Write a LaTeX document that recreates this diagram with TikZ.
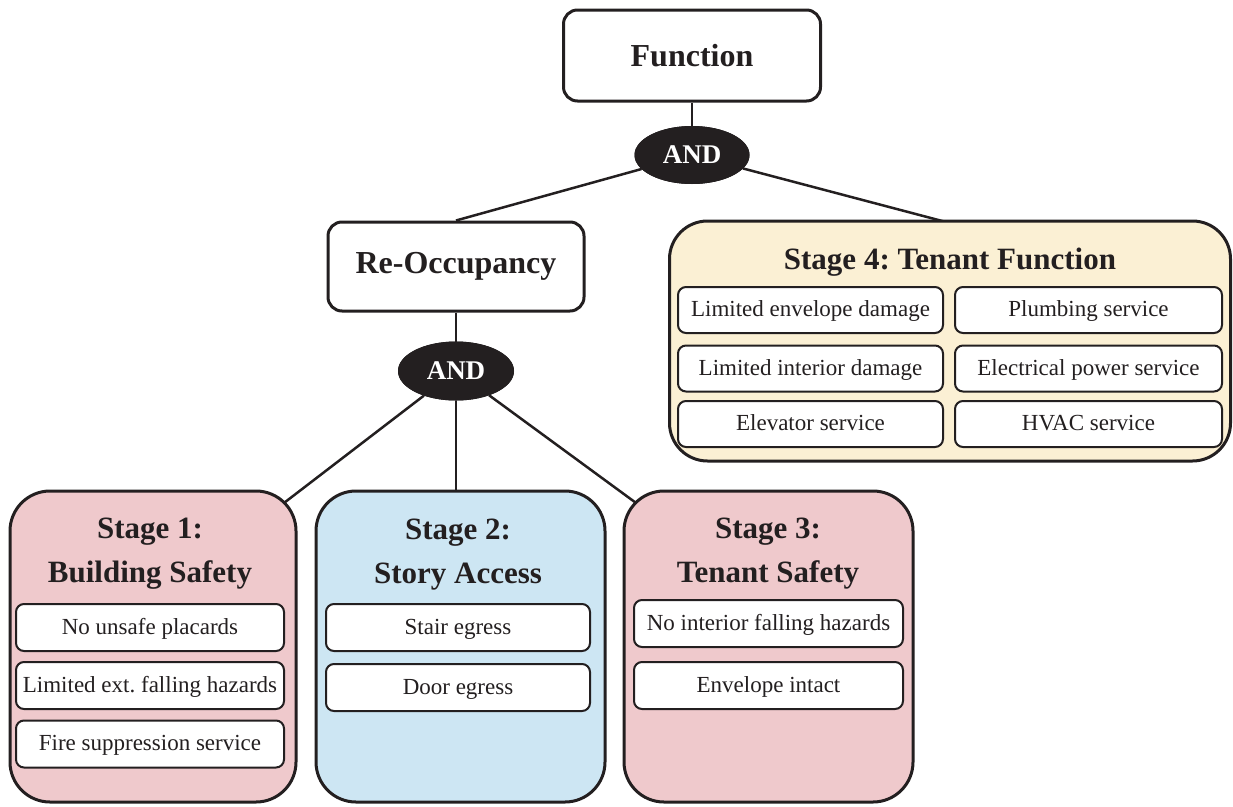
\documentclass[tikz,border=0pt]{standalone}
\usepackage{fontspec}
\setmainfont{Liberation Serif}
\usetikzlibrary{shapes.geometric}
\definecolor{ink}{HTML}{231F20}
\definecolor{pinkfill}{HTML}{EFC9CC}
\definecolor{bluefill}{HTML}{CDE6F3}
\definecolor{creamfill}{HTML}{FBF0D4}
\tikzset{
  topbox/.style={draw=ink, line width=3pt, fill=white, rounded corners=14pt,
    inner sep=0pt, font=\fontsize{32}{36}\selectfont\bfseries, text=ink},
  andnode/.style={ellipse, draw=ink, fill=ink, line width=1pt, inner sep=0pt,
    font=\fontsize{27}{30}\selectfont\bfseries, text=white},
  stagebox/.style={draw=ink, line width=3pt, rounded corners=40pt, inner sep=0pt},
  stagetitle/.style={align=center, font=\fontsize{31}{44}\selectfont\bfseries, text=ink},
  itembox/.style={draw=ink, line width=2pt, fill=white, rounded corners=8pt,
    inner sep=0pt, text height=16pt, text depth=3pt,
    font=\fontsize{23}{26}\selectfont, text=ink},
  link/.style={draw=ink, line width=2.5pt}
}
\begin{document}
\frenchspacing
\begin{tikzpicture}[x=1pt,y=-1pt]
\useasboundingbox (0,0) rectangle (1233,806);

% upper tree
\node[topbox, minimum width=257pt, minimum height=91pt] (fn) at (692,55.5) {Function};
\node[andnode, minimum width=114pt, minimum height=57pt] (and1) at (692,155) {AND};
\node[topbox, minimum width=256pt, minimum height=89pt] (reocc) at (456,266.5) {Re-Occupancy};
\node[andnode, minimum width=115pt, minimum height=58pt] (and2) at (456,371) {AND};

% attachment points on the rounded corners of stages 1 and 3
\coordinate (s1c) at (284.3,502.7);
\coordinate (s3c) at (635.7,502.7);

% connectors (drawn first so the boxes sit on top)
\draw[link] (fn.south) -- (and1.north);
\draw[link] (and1) -- (reocc.north);
\draw[link] (and1) -- (946,222);
\draw[link] (reocc.south) -- (and2.north);
\draw[link] (and2) -- (s1c);
\draw[link] (and2.south) -- (456,491);
\draw[link] (and2) -- (s3c);
\node[andnode, minimum width=114pt, minimum height=57pt] at (and1) {AND};
\node[andnode, minimum width=115pt, minimum height=58pt] at (and2) {AND};

% stage 4
\node[stagebox, fill=creamfill, rounded corners=38pt, minimum width=561pt, minimum height=240pt] (s4) at (950,341) {};
\node[stagetitle] (s4t) at (950,262) {Stage 4: Tenant Function};
\node[itembox, minimum width=265pt, minimum height=46pt] (s4a) at (810.5,310) {Limited envelope damage};
\node[itembox, minimum width=267pt, minimum height=46pt] (s4b) at (1088.5,310) {Plumbing service};
\node[itembox, minimum width=265pt, minimum height=46pt] (s4c) at (810.5,368.5) {Limited interior damage};
\node[itembox, minimum width=267pt, minimum height=46pt] (s4d) at (1088.5,368.5) {Electrical power service};
\node[itembox, minimum width=265pt, minimum height=46pt] (s4e) at (810.5,424) {Elevator service};
\node[itembox, minimum width=267pt, minimum height=46pt] (s4f) at (1088.5,424) {HVAC service};

% stage 1
\node[stagebox, fill=pinkfill, minimum width=286pt, minimum height=311pt] (s1) at (153,646.5) {};
\node[stagetitle] (s1t) at (150,554) {Stage 1:\\Building Safety};
\node[itembox, minimum width=268pt, minimum height=47pt] (s1a) at (150,627.5) {No unsafe placards};
\node[itembox, minimum width=268pt, minimum height=47pt] (s1b) at (150,685.5) {Limited ext. falling hazards};
\node[itembox, minimum width=268pt, minimum height=47pt] (s1c2) at (150,744) {Fire suppression service};

% stage 2
\node[stagebox, fill=bluefill, minimum width=289pt, minimum height=311pt] (s2) at (460.5,646.5) {};
\node[stagetitle] (s2t) at (458,555) {Stage 2:\\Story Access};
\node[itembox, minimum width=264pt, minimum height=47pt] (s2a) at (458,627.5) {Stair egress};
\node[itembox, minimum width=264pt, minimum height=47pt] (s2b) at (458,687.5) {Door egress};

% stage 3
\node[stagebox, fill=pinkfill, minimum width=289pt, minimum height=311pt] (s3) at (768.5,646.5) {};
\node[stagetitle] (s3t) at (768,554) {Stage 3:\\Tenant Safety};
\node[itembox, minimum width=269pt, minimum height=47pt] (s3a) at (768.5,623.5) {No interior falling hazards};
\node[itembox, minimum width=269pt, minimum height=47pt] (s3b) at (768.5,685.5) {Envelope intact};
\end{tikzpicture}
\end{document}
